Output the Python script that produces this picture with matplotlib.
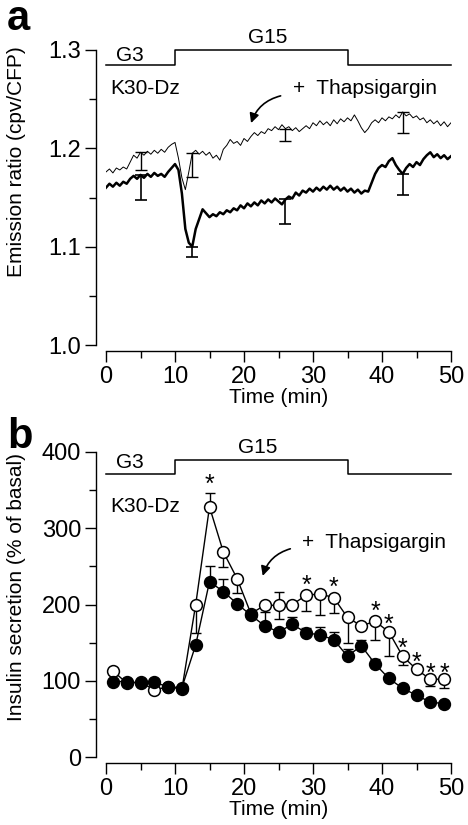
import numpy as np
import matplotlib
matplotlib.use("Agg")
import matplotlib.pyplot as plt
from matplotlib.ticker import MultipleLocator

plt.rcParams['font.family'] = ['Liberation Sans', 'DejaVu Sans']

# ---------- panel a: emission ratio traces (0.5 min sampling) ----------
t_trace = np.arange(0, 50.01, 0.5)

ratio_thap = [
    1.176, 1.179, 1.175, 1.180, 1.178, 1.181, 1.179, 1.186, 1.193, 1.190,
    1.196, 1.193, 1.197, 1.194, 1.198, 1.195, 1.199, 1.196, 1.201, 1.204,
    1.206, 1.190, 1.170, 1.158, 1.176, 1.195, 1.198, 1.194, 1.197, 1.193,
    1.196, 1.190, 1.193, 1.188, 1.199, 1.203, 1.209, 1.205, 1.207, 1.203,
    1.210, 1.207, 1.212, 1.216, 1.213, 1.217, 1.215, 1.220, 1.218, 1.222,
    1.219, 1.224, 1.220, 1.222, 1.218, 1.221, 1.217, 1.220, 1.223, 1.220,
    1.226, 1.223, 1.228, 1.224, 1.227, 1.223, 1.229, 1.225, 1.230, 1.227,
    1.231, 1.228, 1.234, 1.228, 1.221, 1.216, 1.220, 1.226, 1.229, 1.226,
    1.231, 1.228, 1.232, 1.230, 1.234, 1.231, 1.237, 1.233, 1.235, 1.231,
    1.233, 1.229, 1.231, 1.226, 1.229, 1.225, 1.228, 1.223, 1.227, 1.222,
    1.226,
]

ratio_ctrl = [
    1.160, 1.164, 1.161, 1.165, 1.162, 1.166, 1.164, 1.169, 1.172, 1.169,
    1.173, 1.170, 1.174, 1.171, 1.175, 1.172, 1.174, 1.171, 1.176, 1.180,
    1.184, 1.178, 1.154, 1.118, 1.104, 1.100, 1.118, 1.128, 1.138, 1.134,
    1.130, 1.133, 1.131, 1.135, 1.133, 1.137, 1.135, 1.139, 1.137, 1.142,
    1.139, 1.144, 1.141, 1.145, 1.142, 1.147, 1.144, 1.148, 1.145, 1.149,
    1.146, 1.143, 1.148, 1.151, 1.149, 1.155, 1.152, 1.157, 1.155, 1.159,
    1.156, 1.160, 1.157, 1.161, 1.158, 1.162, 1.158, 1.161, 1.157, 1.160,
    1.156, 1.159, 1.155, 1.158, 1.154, 1.157, 1.156, 1.165, 1.174, 1.180,
    1.183, 1.181, 1.187, 1.190, 1.183, 1.178, 1.174, 1.180, 1.184, 1.181,
    1.186, 1.183, 1.189, 1.193, 1.196, 1.191, 1.194, 1.190, 1.193, 1.189,
    1.192,
]

# error bars (downward only) at selected times
err_t = [5.0, 12.5, 26.0, 43.0]
err_thap = [0.018, 0.024, 0.013, 0.021]
err_ctrl = [0.026, 0.010, 0.025, 0.021]

# glucose protocol bar
stim_t = [0, 10, 10, 35, 35, 50]
stim_a = [1.285, 1.285, 1.300, 1.300, 1.285, 1.285]
stim_b = [371, 371, 390, 390, 371, 371]

# ---------- panel b: insulin secretion ----------
t_ins = [1, 3, 5, 7, 9, 11, 13, 15, 17, 19, 21, 23, 25, 27, 29, 31, 33, 35,
         37, 39, 41, 43, 45, 47, 49]
ins_thap = [113, 97, 98, 88, 92, 89, 200, 328, 269, 234, 188, 199, 199, 200,
            212, 214, 209, 183, 172, 178, 164, 132, 115, 102, 102]
thap_lo = [0, 0, 0, 0, 0, 0, 37, 0, 20, 19, 0, 0, 18, 0, 21, 28, 20, 33,
           0, 25, 32, 11, 0, 9, 11]
thap_hi = [0, 0, 0, 0, 0, 0, 0, 18, 0, 0, 0, 0, 18, 0, 0, 0, 0, 0,
           0, 0, 0, 0, 0, 0, 0]
ins_ctrl = [99, 99, 97, 98, 92, 91, 147, 230, 217, 201, 186, 172, 164, 174,
            163, 160, 154, 132, 146, 122, 103, 90, 81, 72, 70]
ctrl_hi = [0, 0, 0, 0, 0, 0, 0, 20, 16, 0, 0, 18, 0, 10, 6, 11, 10, 9,
           7, 7, 0, 0, 0, 0, 0]

star_t = [15, 29, 33, 39, 41, 43, 45, 47, 49]
star_y = [366, 234, 231, 199, 183, 151, 132, 118, 118]

FS = 15
TFS = 17

fig = plt.figure(figsize=(4.68, 8.25), dpi=100)
axa = fig.add_axes([106 / 468, 1 - 345 / 825, 345 / 468, 295 / 825])
axb = fig.add_axes([106 / 468, 1 - 757 / 825, 345 / 468, 305 / 825])


def style_axes(ax):
    for s in ["top", "right"]:
        ax.spines[s].set_visible(False)
    ax.spines["left"].set_position(("outward", 7))
    ax.spines["bottom"].set_position(("outward", 4))
    ax.spines["left"].set_linewidth(1.0)
    ax.spines["bottom"].set_linewidth(1.0)
    ax.set_xlim(0, 50)
    ax.xaxis.set_major_locator(MultipleLocator(10))
    ax.xaxis.set_minor_locator(MultipleLocator(5))
    ax.tick_params(which="major", length=8, width=1.0, labelsize=TFS, pad=3)
    ax.tick_params(which="minor", length=5, width=1.0)
    ax.set_xlabel("Time (min)", fontsize=FS, labelpad=0)


# ---- panel a ----
style_axes(axa)
axa.set_ylim(1.0, 1.3)
axa.yaxis.set_major_locator(MultipleLocator(0.1))
axa.yaxis.set_minor_locator(MultipleLocator(0.05))
axa.yaxis.set_major_formatter(plt.FormatStrFormatter("%.1f"))

axa.plot(t_trace, ratio_thap, color="k", lw=0.7)
axa.plot(t_trace, ratio_ctrl, color="k", lw=1.8)
idx = [int(round(v / 0.5)) for v in err_t]
axa.errorbar(err_t, [ratio_thap[i] for i in idx], yerr=[err_thap, [0] * 4],
             fmt="none", ecolor="k", elinewidth=1.0, capsize=4, capthick=1.0)
axa.errorbar(err_t, [ratio_ctrl[i] for i in idx], yerr=[err_ctrl, [0] * 4],
             fmt="none", ecolor="k", elinewidth=1.2, capsize=4, capthick=1.2)
axa.plot(stim_t, stim_a, color="k", lw=1.1, clip_on=False)
axa.text(3.5, 1.294, "G3", fontsize=FS, ha="center", va="center")
axa.text(23.5, 1.313, "G15", fontsize=FS, ha="center", va="center")
axa.text(0.6, 1.261, "K30-Dz", fontsize=FS, ha="left", va="center")
axa.text(27.1, 1.261, "+  Thapsigargin", fontsize=FS, ha="left", va="center")
axa.annotate("", xy=(20.9, 1.223), xytext=(25.7, 1.254),
             arrowprops=dict(arrowstyle="-|>", connectionstyle="arc3,rad=0.3",
                             color="k", lw=1.2, mutation_scale=14))
axa.set_ylabel("Emission ratio (cpv/CFP)", fontsize=FS)
axa.yaxis.set_label_coords(-0.232, 0.62)

# ---- panel b ----
style_axes(axb)
axb.set_ylim(0, 400)
axb.yaxis.set_major_locator(MultipleLocator(100))
axb.yaxis.set_minor_locator(MultipleLocator(50))

axb.errorbar(t_ins, ins_thap, yerr=[thap_lo, thap_hi], fmt="none", ecolor="k",
             elinewidth=1.0, capsize=3.5, capthick=1.0, zorder=2)
axb.errorbar(t_ins, ins_ctrl, yerr=[[0] * len(t_ins), ctrl_hi], fmt="none",
             ecolor="k", elinewidth=1.0, capsize=3.5, capthick=1.0, zorder=2)
axb.plot(t_ins, ins_thap, color="k", lw=1.0, marker="o", ms=8.5,
         mfc="white", mec="k", mew=1.1, zorder=3)
axb.plot(t_ins, ins_ctrl, color="k", lw=1.0, marker="o", ms=8.5,
         mfc="k", mec="k", mew=1.1, zorder=4)
for x, y in zip(star_t, star_y):
    axb.annotate("*", (x, y), xytext=(0, -5), textcoords="offset points",
                 fontsize=18, ha="center", va="center")
axb.plot(stim_t, stim_b, color="k", lw=1.1, clip_on=False)
axb.text(3.5, 386, "G3", fontsize=FS, ha="center", va="center")
axb.text(22, 406, "G15", fontsize=FS, ha="center", va="center")
axb.text(0.6, 328, "K30-Dz", fontsize=FS, ha="left", va="center")
axb.text(28.4, 281, "+  Thapsigargin", fontsize=FS, ha="left", va="center")
axb.annotate("", xy=(22.6, 234), xytext=(27.1, 274),
             arrowprops=dict(arrowstyle="-|>", connectionstyle="arc3,rad=0.3",
                             color="k", lw=1.2, mutation_scale=14))
axb.set_ylabel("Insulin secretion (% of basal)", fontsize=FS)
axb.yaxis.set_label_coords(-0.232, 0.557)

fig.text(7 / 468, 1 - 19 / 825, "a", fontsize=30, fontweight="bold", va="center")
fig.text(7 / 468, 1 - 437 / 825, "b", fontsize=30, fontweight="bold", va="center")

fig.savefig("out.png", dpi=100)
